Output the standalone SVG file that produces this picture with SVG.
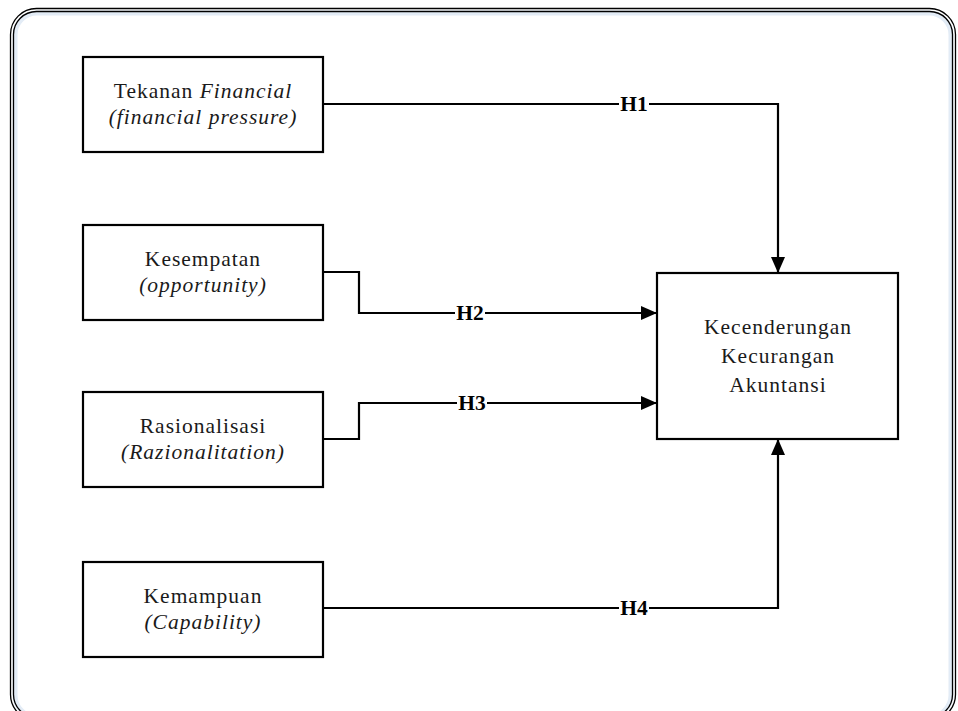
<svg xmlns="http://www.w3.org/2000/svg" width="958" height="711" viewBox="0 0 958 711">
<style>
.box{fill:#fff;stroke:#000;stroke-width:2.2}
.t{font-family:'Liberation Serif','DejaVu Serif',serif;font-size:21.5px;letter-spacing:1px;fill:#1a1a1a;text-anchor:middle}
.i{font-style:italic}
.h{font-family:'Liberation Serif','DejaVu Serif',serif;font-size:21.5px;font-weight:bold;fill:#000;text-anchor:middle}
.c{fill:none;stroke:#000;stroke-width:2.2}
.lb{fill:#fff}
</style>
<defs>
<marker id="ar" viewBox="0 0 16 14" refX="16" refY="7" markerWidth="16" markerHeight="14" markerUnits="userSpaceOnUse" orient="auto">
<path d="M0,0 L16,7 L0,14 Z" fill="#000"/>
</marker>
</defs>
<rect width="958" height="711" fill="#fff"/>
<g id="frame">
<rect x="15" y="13" width="936" height="704" rx="22" fill="none" stroke="#e3ecf6" stroke-width="5"/>
<rect x="10.5" y="8.5" width="945" height="712" rx="26" fill="none" stroke="#000" stroke-width="1.3"/>
<rect x="13.5" y="11.5" width="939" height="706" rx="23" fill="none" stroke="#000" stroke-width="1.3"/>
</g>
<g id="connectors">
<path class="c" d="M323,104 H778 V273" marker-end="url(#ar)"/>
<path class="c" d="M323,272 H359 V313 H657" marker-end="url(#ar)"/>
<path class="c" d="M323,439 H359 V403 H657" marker-end="url(#ar)"/>
<path class="c" d="M323,608 H778 V439" marker-end="url(#ar)"/>
<rect class="lb" x="619" y="94" width="30" height="20"/>
<text class="h" x="634" y="111">H1</text>
<rect class="lb" x="455" y="303" width="30" height="20"/>
<text class="h" x="470" y="320">H2</text>
<rect class="lb" x="457" y="393" width="30" height="20"/>
<text class="h" x="472" y="410">H3</text>
<rect class="lb" x="619" y="598" width="30" height="20"/>
<text class="h" x="634" y="615">H4</text>
</g>
<g id="n1">
<rect class="box" x="83" y="57" width="240" height="95"/>
<text class="t" x="203" y="98">Tekanan <tspan class="i">Financial</tspan></text>
<text class="t i" x="203" y="124">(financial pressure)</text>
</g>
<g id="n2">
<rect class="box" x="83" y="225" width="240" height="95"/>
<text class="t" x="203" y="266">Kesempatan</text>
<text class="t i" x="203" y="292">(opportunity)</text>
</g>
<g id="n3">
<rect class="box" x="83" y="392" width="240" height="95"/>
<text class="t" x="203" y="433">Rasionalisasi</text>
<text class="t i" x="203" y="459">(Razionalitation)</text>
</g>
<g id="n4">
<rect class="box" x="83" y="562" width="240" height="95"/>
<text class="t" x="203" y="603">Kemampuan</text>
<text class="t i" x="203" y="629">(Capability)</text>
</g>
<g id="target">
<rect class="box" x="657" y="273" width="241" height="166"/>
<text class="t" x="778" y="334">Kecenderungan</text>
<text class="t" x="778" y="363">Kecurangan</text>
<text class="t" x="778" y="392">Akuntansi</text>
</g>
</svg>
